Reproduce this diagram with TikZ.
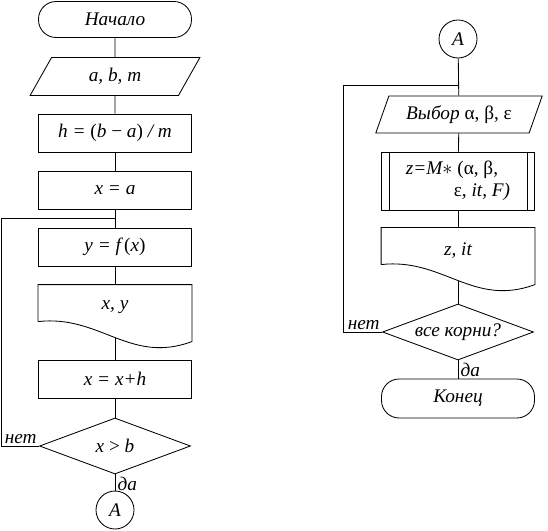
\documentclass[tikz,border=0pt]{standalone}
\usepackage{fontspec}
\setmainfont{Liberation Serif}
\usepackage{tikz}
\usetikzlibrary{positioning,calc,shapes.geometric}
\newcommand{\ru}[1]{{\upshape #1}}
\newcommand{\docpath}[1]{%
  \draw ($(#1.north west)+(0,37)$) -- (#1.north west) -- (#1.north east) -- ($(#1.north east)+(0,57)$)
    .. controls ($(#1.north west)+(92,80)$) and ($(#1.north west)+(62,30)$) .. ($(#1.north west)+(0,37)$);}
\tikzset{
  term/.style   ={draw, rectangle, rounded corners=4.4mm, minimum width=38.25mm, minimum height=9mm, inner sep=1pt},
  io/.style     ={draw, trapezium, trapezium left angle=64, trapezium right angle=116, trapezium stretches=true, minimum width=42.5mm, minimum height=9.5mm, inner sep=1pt},
  proc/.style   ={draw, rectangle, minimum width=38.25mm, minimum height=9.5mm, inner sep=1pt},
  subproc/.style={draw, rectangle, minimum width=38.25mm, minimum height=14.5mm, inner sep=1pt, align=left},
  doc/.style    ={rectangle, minimum width=38.25mm, minimum height=11.25mm, inner sep=1pt},
  dec/.style    ={draw, diamond, aspect=2.7, minimum width=37.75mm, minimum height=14mm, inner sep=0pt},
  conn/.style   ={draw, circle, minimum size=9.5mm, inner sep=0pt},
  lbl/.style    ={inner sep=1.5pt},
}
\begin{document}
\begin{tikzpicture}[x=0.25mm, y=-0.25mm, line width=0.6pt,
    every node/.style={font=\fontsize{13.7}{16}\selectfont\itshape}]
  \useasboundingbox (0,0) rectangle (548,531);

  % left column
  \node[term] (start) at (115,19.5) {Начало};
  \node[io] (in1) at (115,76.5) {a, b, m};
  \node[proc] (hstep) at (115,133) {h = \ru{(}b \ru{−} a\ru{)} / m};
  \node[proc] (init) at (115,190) {x = a};
  \node[proc] (func) at (115,247) {y = f\,\ru{(}x\ru{)}};
  \node[doc] (out1) at (115,307.5) {x, y};
  \docpath{out1}
  \coordinate (out1b) at ($(out1.north)+(0,53)$);
  \node[proc] (inc) at (115,379) {x = x+h};
  \node[dec] (cond) at (115,446) {x \ru{>} b};
  \node[conn] (conA) at (115,510) {A};
  \coordinate (jL) at (115,218);

  \foreach \a/\b in {start/in1, in1/hstep, hstep/init, init/func, func/out1, out1b/inc, inc/cond, cond/conA}
    \draw (\a) -- (\b);
  \draw (cond.west) -- ++(-38,0) |- (jL);
  \node[lbl, above left] at (cond.west) {нет};
  \node[lbl, below right] at (cond.south) {да};

  % right column
  \node[conn] (conB) at (458,39) {A};
  \node[io, minimum width=41.75mm, minimum height=9.25mm] (sel) at (459,114.5) {Выбор \ru{α, β, ε}};
  \node[subproc] (sub) at (458,181) {z=M$\ast$ \ru{(α, β,}\\\hspace*{12mm}\ru{ε,} it, F)};
  \draw ([xshift=2mm]sub.north west) -- ([xshift=2mm]sub.south west);
  \draw ([xshift=-2mm]sub.north east) -- ([xshift=-2mm]sub.south east);
  \node[doc] (out2) at (458,250.5) {z, it};
  \docpath{out2}
  \coordinate (out2b) at ($(out2.north)+(0,53)$);
  \node[dec] (cond2) at (458,332) {все корни?};
  \node[term, minimum height=9.75mm] (finish) at (458,398.5) {Конец};
  \coordinate (jR) at (458,85);

  \foreach \a/\b in {conB/sel, sel/sub, sub/out2, out2b/cond2, cond2/finish}
    \draw (\a) -- (\b);
  \draw (cond2.west) -- ++(-39,0) |- (jR);
  \node[lbl, above left] at (cond2.west) {нет};
  \node[lbl, below right] at (cond2.south) {да};
\end{tikzpicture}
\end{document}
